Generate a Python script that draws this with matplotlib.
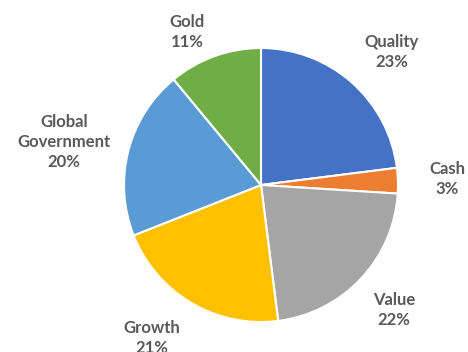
import matplotlib
matplotlib.use("Agg")
import matplotlib.pyplot as plt
import numpy as np

# data
categories = ["Quality", "Cash", "Value", "Growth", "Global\nGovernment", "Gold"]
shares = [23, 3, 22, 21, 20, 11]
colors = ["#4472C4", "#ED7D31", "#A5A5A5", "#FFC000", "#5B9BD5", "#70AD47"]

plt.rcParams["font.family"] = ["Lato", "DejaVu Sans"]

fig = plt.figure(figsize=(4.68, 3.52), dpi=100)
cx, cy, r = 261, 185, 137
ax = fig.add_axes([(cx - r) / 468, (352 - cy - r) / 352, 2 * r / 468, 2 * r / 352])

labels = [f"{c}\n{v}%" for c, v in zip(categories, shares)]
wedges, texts = ax.pie(shares, labels=labels, colors=colors, startangle=90,
                       counterclock=False, labeldistance=1.36,
                       wedgeprops=dict(edgecolor="white", linewidth=1.5),
                       textprops=dict(fontsize=12, fontweight="bold", color="#595959"))

# label placement like Excel's "best fit": distance from centre and angle nudge
dist = [1.36, 1.36, 1.33, 1.37, 1.47, 1.24]
nudge = [-3, 0, 0, -5, 2, 6]
for w, t, d, n in zip(wedges, texts, dist, nudge):
    ang = np.deg2rad((w.theta1 + w.theta2) / 2 + n)
    t.set_position((d * np.cos(ang), d * np.sin(ang)))
    t.set_ha("center")
    t.set_va("center")
    t.set_multialignment("center")
    t.set_linespacing(1.3)

ax.set_xlim(-1, 1)
ax.set_ylim(-1, 1)
ax.set_aspect("equal")
ax.axis("off")

fig.savefig("out.png", dpi=100)
